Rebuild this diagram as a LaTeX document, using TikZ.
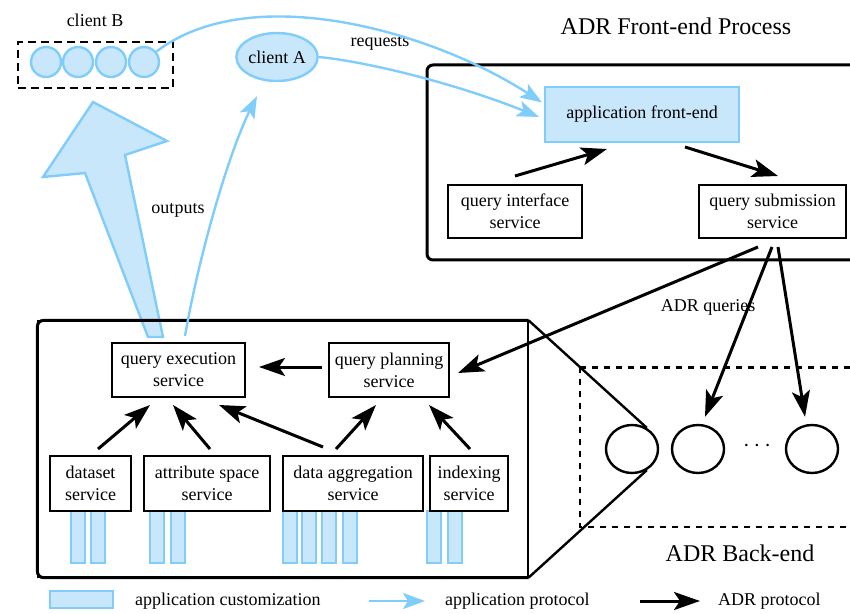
\documentclass[tikz,border=0pt]{standalone}
\usepackage{fontspec}
\setmainfont{Liberation Serif}
\newfontfamily\figfont{Liberation Serif}
\usetikzlibrary{arrows.meta,shapes.geometric}
\definecolor{appfill}{HTML}{C8E7FB}
\definecolor{appline}{HTML}{80CCFA}
\tikzset{
  svc/.style={draw,line width=1pt,align=center,inner sep=1pt,font=\figfont\fontsize{9}{11}\selectfont},
  lbl/.style={font=\figfont\fontsize{9}{11}\selectfont},
  title/.style={font=\figfont\fontsize{12}{14}\selectfont},
  adr/.style={draw,line width=1.5pt,-{Stealth[length=13pt,width=9pt,inset=3pt]}},
  app/.style={draw=appline,line width=1.2pt,-{Stealth[length=11pt,width=8pt,inset=2.5pt]}},
  custbar/.style={draw=appline,fill=appfill,line width=0.8pt},
}
\begin{document}
\begin{tikzpicture}[x=0.5pt,y=-0.5pt]
        \useasboundingbox (0,0) rectangle (850,614);

        % clients
        \node[lbl] (clientBlbl) at (95,20) {client B};
        \node[draw,dashed,dash pattern=on 4pt off 2.5pt,line width=1pt,
              minimum width=77.5pt,minimum height=23pt] (clientB) at (95.5,65) {};
        \begin{scope}[every node/.style={circle,draw=appline,fill=appfill,line width=1.2pt,minimum size=15pt,inner sep=0pt}]
          \node (b1) at (46,62)  {};
          \node (b2) at (78,62)  {};
          \node (b3) at (111,62) {};
          \node (b4) at (144,62) {};
        \end{scope}
        \node[ellipse,draw=appline,fill=appfill,line width=1.2pt,lbl,
              minimum width=40pt,minimum height=24pt,inner sep=0pt] (clientA) at (277,57) {client A};
        \node[lbl] (reqlbl) at (380,43) {requests};

        % front-end process
        \node[title] (felbl) at (676,26) {ADR Front-end Process};
        \node[draw,line width=1.5pt,rounded corners=3pt,minimum width=216.5pt,minimum height=97.5pt] (frontend) at (643.5,162.5) {};
        \node[svc,draw=appline,fill=appfill,minimum width=97pt,minimum height=27.5pt] (appfe) at (642,114.5) {application front-end};
        \node[svc,minimum width=67pt,minimum height=26.5pt] (qif) at (515,211.5) {query interface\\service};
        \node[svc,minimum width=73.5pt,minimum height=26.5pt] (qsub) at (772.5,211.5) {query submission\\service};

        % outputs to the clients
        \draw[draw=appline,fill=appfill,line width=1.2pt]
          (93,102) -- (167,141) -- (125,155) -- (163,337) -- (148,337) -- (85,173) -- (43,177) -- cycle;
        \node[lbl] (outlbl) at (178,210) {outputs};

        % back-end process
        \foreach \bx in {71,91,150,171,283,302,322,343,427,448}
          \draw[custbar] (\bx,511) rectangle ++(14,52);
        \node[draw,line width=0.6pt,minimum width=245pt,minimum height=128pt] (backend) at (283,449) {};
        \draw[line width=1.5pt,rounded corners=3pt]
          (backend.north east) -- (backend.north west) -- (backend.south west) -- (backend.south east);
        \node[svc,minimum width=66.5pt,minimum height=27pt] (qexec) at (178.5,370) {query execution\\service};
        \node[svc,minimum width=60pt,minimum height=27pt] (qplan) at (389,370) {query planning\\service};
        \node[svc,minimum width=40.5pt,minimum height=27.5pt] (dataset) at (90.5,483.5) {dataset\\service};
        \node[svc,minimum width=63pt,minimum height=27.5pt] (attr) at (207,483.5) {attribute space\\service};
        \node[svc,minimum width=70pt,minimum height=27.5pt] (agg) at (353,483.5) {data aggregation\\service};
        \node[svc,minimum width=39pt,minimum height=27.5pt] (idx) at (469,483.5) {indexing\\service};

        % back-end nodes
        \draw[dashed,line width=1.5pt] (580,367) -- (860,367);
        \draw[dashed,line width=0.8pt] (580,367) -- (580,527) -- (860,527);
        \begin{scope}[every node/.style={ellipse,draw,line width=1.2pt,minimum width=26pt,minimum height=24pt,inner sep=0pt}]
          \node (be1) at (632,449) {};
          \node (be2) at (698,449) {};
          \node (be3) at (812,449) {};
        \end{scope}
        \node[title] (bedots) at (757,446) {$\cdots$};
        \draw[line width=1.2pt] (backend.north east) -- (be1.55);
        \draw[line width=1.2pt] (backend.south east) -- (be1.-55);
        \node[title] (belbl) at (740,553) {ADR Back-end};
        \node[lbl] (querylbl) at (708,307) {ADR queries};

        % application protocol
        \draw[app] (b4.40) .. controls (250,-20) and (430,30) .. ([xshift=-1pt,yshift=6pt]appfe.west);
        \draw[app] (clientA.east) .. controls (370,62) and (460,85) .. ([xshift=-2.5pt,yshift=-1.25pt]appfe.west);
        \draw[app] ([xshift=3.25pt,yshift=3pt]qexec.north) .. controls (200,250) and (230,150) .. ([xshift=-10pt,yshift=-7pt]clientA.south);

        % ADR protocol
        \begin{scope}[every edge/.style={adr}]
          \path ([yshift=4pt]qif.north)                edge ([xshift=-17.5pt,yshift=-3pt]appfe.south);
          \path ([xshift=21.5pt,yshift=-2pt]appfe.south) edge ([xshift=2.75pt,yshift=4pt]qsub.north);
          \path ([xshift=-7.25pt,yshift=-4pt]qsub.south) edge ([xshift=4pt,yshift=-1.5pt]qplan.east);
          \path ([xshift=-0.25pt,yshift=-4pt]qsub.south) edge ([xshift=3.5pt,yshift=3.5pt]be2.north);
          \path ([xshift=2.75pt,yshift=-4pt]qsub.south)  edge ([xshift=-3.5pt,yshift=3.5pt]be3.north);
          \path ([xshift=-3pt,yshift=1.5pt]qplan.west)   edge ([xshift=6.5pt,yshift=1.5pt]qexec.east);
          \path ([xshift=3.75pt,yshift=3pt]dataset.north) edge ([xshift=-14.25pt,yshift=-3.5pt]qexec.south);
          \path ([xshift=1.5pt,yshift=3pt]attr.north)    edge ([xshift=-2.75pt,yshift=-3.5pt]qexec.south);
          \path ([xshift=-15pt,yshift=4pt]agg.north)     edge ([xshift=20.25pt,yshift=-3.5pt]qexec.south);
          \path ([xshift=-8.5pt,yshift=3pt]agg.north)    edge ([xshift=-6.5pt,yshift=-3.5pt]qplan.south);
          \path ([xshift=0.5pt,yshift=3pt]idx.north)     edge ([xshift=20pt,yshift=-3.5pt]qplan.south);
        \end{scope}

        % legend
        \node[custbar,minimum width=31.5pt,minimum height=8.5pt,inner sep=0pt] (legcust) at (81.5,599.5) {};
        \node[lbl,anchor=west] (legcustlbl) at (128,601) {application customization};
        \coordinate (legapp1) at (369,601);
        \coordinate (legapp2) at (425,601);
        \draw[app] (legapp1) -- (legapp2);
        \node[lbl,anchor=west] (legapplbl) at (438,601) {application protocol};
        \coordinate (legadr1) at (640,601);
        \coordinate (legadr2) at (700,601);
        \draw[adr] (legadr1) -- (legadr2);
        \node[lbl,anchor=west] (legadrlbl) at (711,601) {ADR protocol};

      \end{tikzpicture}
\end{document}
